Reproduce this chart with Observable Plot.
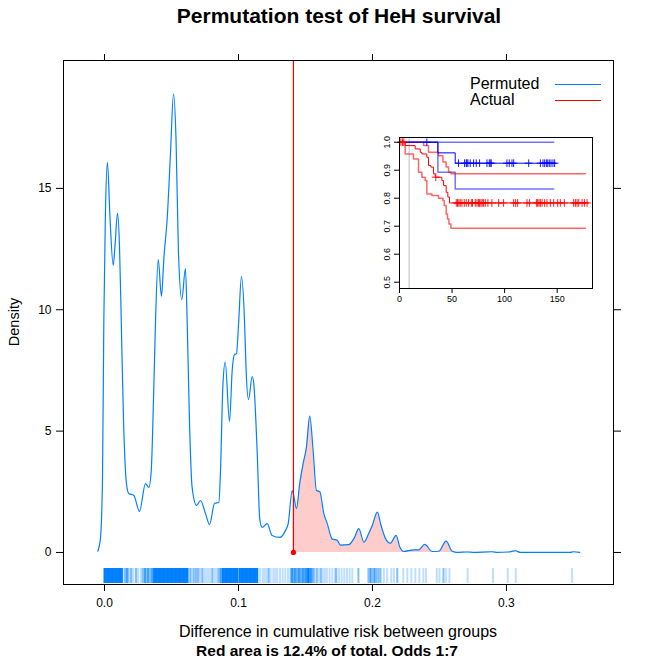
<!DOCTYPE html>
<html><head><meta charset="utf-8">
<script src="https://cdn.jsdelivr.net/npm/d3@7"></script>
<script src="https://cdn.jsdelivr.net/npm/@observablehq/plot@0.6"></script>
<style>
body{margin:0;background:#fff;font-family:"Liberation Sans",Arial,sans-serif;}
#wrap{position:relative;width:651px;height:664px;overflow:hidden;}
#wrap svg{position:absolute;}
.t{position:absolute;white-space:nowrap;color:#000;}
</style></head><body>
<div id="wrap"></div>
<script>
// ---------- main density data ----------
const densX = [-0.0050,-0.0030,-0.0015,-0.0005,0.0007,0.0022,0.0041,0.0065,0.0078,0.0097,0.0112,0.0125,0.0142,0.0164,0.0181,0.0219,0.0261,0.0306,0.0331,0.0349,0.0368,0.0381,0.0401,0.0425,0.0444,0.0468,0.0493,0.0515,0.0534,0.0552,0.0577,0.0604,0.0617,0.0634,0.0654,0.0687,0.0716,0.0754,0.0784,0.0821,0.0853,0.0866,0.0883,0.0901,0.0933,0.0953,0.0970,0.0985,0.1002,0.1022,0.1045,0.1057,0.1075,0.1102,0.1114,0.1140,0.1159,0.1177,0.1214,0.1251,0.1308,0.1351,0.1371,0.1401,0.1410,0.1433,0.1457,0.1483,0.1507,0.1532,0.1557,0.1582,0.1607,0.1637,0.1662,0.1699,0.1737,0.1761,0.1823,0.1866,0.1898,0.1936,0.1972,0.1998,0.2037,0.2060,0.2097,0.2134,0.2177,0.2204,0.2234,0.2308,0.2346,0.2390,0.2446,0.2495,0.2550,0.2595,0.2632,0.2707,0.2756,0.2893,0.2931,0.3017,0.3067,0.3104,0.3478,0.3498,0.3547];
const densY = [0.05,0.6,3.0,9.56,14.0,16.07,13.8,11.83,12.6,13.97,12.6,9.56,5.44,2.84,2.43,2.35,1.69,2.84,2.68,3.38,6.8,9.56,12.07,10.56,12.2,13.76,16.5,18.9,17.0,12.36,10.42,11.7,9.56,5.44,2.68,1.94,2.14,1.6,1.15,2.02,2.06,3.38,6.8,7.84,5.4,7.5,8.15,8.19,9.56,11.37,9.56,7.5,6.3,7.25,6.96,4.08,1.36,1.03,1.19,0.7,0.62,0.91,1.19,2.55,2.4,1.81,2.84,3.67,4.33,5.62,4.2,2.55,2.5,1.6,1.2,0.56,0.5,0.3,0.32,0.62,0.98,0.42,0.78,1.1,1.66,1.19,0.58,0.38,0.7,0.22,0.04,0.11,0.11,0.33,0.04,0.05,0.47,0.05,0,0.02,0,0.03,0,0.02,0.07,0,0,0.03,0];
const actualValue = 0.141;

// rug of permuted values (value, count)
const rugX = [0.000,0.001,0.002,0.003,0.004,0.005,0.006,0.007,0.008,0.009,0.010,0.011,0.012,0.013,
0.0150,0.0165,0.0175,0.0190,0.0200,0.0215,0.0235,0.0250,0.0270,0.0285,0.0300,0.0310,0.0325,0.0340,0.0355,
0.037,0.038,0.039,0.040,0.041,0.042,0.043,0.044,0.045,0.046,0.047,0.048,0.049,0.050,0.051,0.052,0.053,0.054,0.055,0.056,0.057,0.058,0.059,0.060,0.061,0.062,
0.0640,0.0650,0.0665,0.0680,0.0690,0.0700,0.0715,0.0730,0.0745,0.0760,0.0775,0.0790,0.0805,0.0820,0.0835,0.0850,0.0865,
0.088,0.089,0.090,0.091,0.092,0.093,0.094,0.095,0.096,0.097,0.098,0.099,0.100,0.101,0.102,0.103,0.104,0.105,0.106,0.107,0.108,0.109,0.110,0.111,0.112,0.113,0.114,
0.1160,0.1180,0.1195,0.1210,0.1225,0.1240,0.1260,0.1275,0.1290,0.1310,0.1330,0.1350,0.1370,
0.1390,0.1400,0.1410,0.1420,0.1430,0.1440,0.1450,0.1460,0.1470,0.1480,0.1490,0.1500,0.1510,0.1520,0.1530,0.1540,0.1550,0.1560,0.1570,0.1585,0.1600,0.1615,0.1630,0.1645,0.1660,
0.1680,0.1700,0.1720,0.1730,0.1750,0.1770,0.1790,0.1810,0.1830,0.1850,
0.1895,0.1970,0.1985,0.2000,0.2015,0.2030,0.2045,0.2060,0.2085,0.2110,0.2140,0.2160,0.2185,0.2230,0.2260,0.2290,0.2320,0.2350,0.2380,0.2400,0.2480,0.2500,0.2530,0.2550,0.2575,0.2710,0.2900,0.3010,0.3070,0.3490];
const rugN = [4,4,4,4,4,4,4,4,4,4,4,4,4,4,
2,3,2,1,2,1,2,1,1,2,3,2,3,2,3,
4,4,4,4,4,4,4,4,4,4,4,4,4,4,4,4,4,4,4,4,4,4,4,4,4,4,
2,1,2,2,1,2,1,2,1,1,1,1,2,1,1,2,3,
4,4,4,4,4,4,4,4,4,4,4,4,2,4,4,4,4,4,4,4,4,4,4,4,4,4,4,
1,1,1,1,2,1,1,1,1,1,1,1,1,
2,3,2,3,2,2,3,2,2,3,2,3,3,4,3,3,2,2,1,2,1,2,1,1,1,
1,1,1,2,1,1,1,1,1,1,
2,2,3,2,3,2,2,2,1,1,1,1,2,1,1,1,1,1,1,1,1,1,2,1,1,1,1,1,1,1];

const xTicks = [0.0, 0.1, 0.2, 0.3];
const yTicks = [0, 5, 10, 15];
const xDomain = [-0.0306, 0.3799];
const yDomain = [-1.32, 20.27];

// ---------- inset survival data ----------
const blueEstT = [0, 36.5, 53.0, 148.3];
const blueEstS = [1, 0.962, 0.925, 0.925];
const blueUpT = [0, 146.7];
const blueUpS = [1, 1];
const blueLoT = [0, 36.5, 53.0, 146.7];
const blueLoS = [1, 0.893, 0.833, 0.833];
const redEstT = [0, 5.4, 14.9, 19.7, 21.3, 26.0, 27.6, 29.8, 32.4, 34.0, 40.3, 41.9, 44.4, 46.0, 47.6, 180.0];
const redEstS = [1, 0.988, 0.976, 0.964, 0.958, 0.946, 0.917, 0.911, 0.887, 0.875, 0.863, 0.845, 0.821, 0.804, 0.783, 0.783];
const redUpT = [0, 22.9, 27.6, 37.1, 41.3, 44.4, 46.7, 48.9, 176.8];
const redUpS = [1, 0.988, 0.964, 0.952, 0.929, 0.911, 0.893, 0.887, 0.887];
const redLoT = [0, 5.4, 13.3, 18.1, 21.3, 24.4, 26.0, 30.8, 37.1, 41.3, 42.5, 44.4, 45.7, 47.0, 48.9, 176.8];
const redLoS = [1, 0.958, 0.940, 0.893, 0.875, 0.863, 0.815, 0.810, 0.800, 0.792, 0.774, 0.744, 0.726, 0.708, 0.693, 0.693];
const blueCensT = [26.0, 56.2, 61.9, 63.5, 64.1, 65.1, 67.3, 70.5, 73.0, 76.2, 83.2, 85.4, 86.3, 87.3, 102.2, 104.4, 107.0, 108.6, 122.9, 134.0, 136.5, 138.1, 139.7, 141.0, 142.5, 144.1, 146.0, 147.6];
const redCensT = [1.3, 2.9, 4.1, 34.5, 54.0, 55.2, 56.5, 57.8, 59.4, 61.6, 63.5, 65.7, 68.3, 69.5, 72.1, 73.7, 75.2, 76.2, 77.5, 78.7, 80.0, 81.6, 84.1, 87.9, 94.3, 99.0, 108.6, 110.5, 112.4, 121.3, 123.8, 130.2, 131.4, 132.7, 134.0, 135.6, 138.1, 140.3, 143.5, 146.7, 150.5, 153.0, 156.8, 165.7, 167.3, 168.9, 170.5, 173.7, 175.9, 178.4];
const landmarkT = 9.2;
const insetXTicks = [0, 50, 100, 150];
const insetYTicks = [0.5, 0.6, 0.7, 0.8, 0.9, 1.0];

// ---------- build ----------
const FONT = "'Liberation Sans', Arial, sans-serif";
const dens = densX.map((x, i) => ({x, y: densY[i]}));
const rug = rugX.map((x, i) => ({x, n: rugN[i]}));
const wrap = document.getElementById("wrap");

const main = Plot.plot({
  width: 651, height: 664,
  marginLeft: 63, marginRight: 38, marginTop: 60, marginBottom: 80,
  style: {fontFamily: FONT, fontSize: "12px", background: "transparent", color: "black"},
  x: {domain: xDomain, label: null},
  y: {domain: yDomain, label: null},
  opacity: {type: "linear", domain: [0, 4], range: [0, 1]},
  marks: [
    Plot.areaY(dens.filter(d => d.x >= actualValue), {x: "x", y: "y", fill: "#ffcccc", curve: "monotone-x"}),
    Plot.lineY(dens, {x: "x", y: "y", stroke: "#0080ff", strokeWidth: 1.2, curve: "monotone-x"}),
    Plot.ruleX(rug, {x: "x", stroke: "#0080ff", strokeOpacity: "n", strokeWidth: 2, insetTop: 508, insetBottom: 1}),
    Plot.ruleX([actualValue], {x: d => d, y1: 0, y2: yDomain[1], stroke: "#ff0000", strokeWidth: 1.2}),
    Plot.dot([actualValue], {x: d => d, y: 0, r: 2.6, fill: "red", stroke: "none"}),
    Plot.frame({stroke: "black"}),
    Plot.axisX(xTicks, {anchor: "bottom", tickSize: 7, tickPadding: 7, tickFormat: d3.format(".1f"), label: null}),
    Plot.axisX(xTicks, {anchor: "top", tickSize: 7, tickFormat: () => "", label: null}),
    Plot.axisY(yTicks, {anchor: "left", tickSize: 7, tickPadding: 5, label: null}),
    Plot.axisY(yTicks, {anchor: "right", tickSize: 7, tickFormat: () => "", label: null})
  ]
});
main.style.left = "0px"; main.style.top = "0px";
wrap.appendChild(main);

const step = (T, S) => T.map((t, i) => ({t, s: S[i]}));
const lookup = (T, S) => t => S[Math.max(0, d3.bisectRight(T, t) - 1)];
const blueAt = lookup(blueEstT, blueEstS), redAt = lookup(redEstT, redEstS);

const inset = Plot.plot({
  width: 230, height: 174,
  marginLeft: 30, marginTop: 6, marginRight: 7, marginBottom: 17,
  style: {fontFamily: FONT, fontSize: "9px", background: "white", color: "black"},
  x: {domain: [0, 183.6], label: null},
  y: {domain: [0.4775, 1.0168], label: null},
  marks: [
    Plot.ruleX([landmarkT], {x: d => d, stroke: "#cccccc", strokeWidth: 1.3}),
    Plot.line(step(blueUpT, blueUpS), {x: "t", y: "s", curve: "step-after", stroke: "blue", strokeOpacity: 0.55}),
    Plot.line(step(blueLoT, blueLoS), {x: "t", y: "s", curve: "step-after", stroke: "blue", strokeOpacity: 0.55}),
    Plot.line(step(redUpT, redUpS), {x: "t", y: "s", curve: "step-after", stroke: "red", strokeOpacity: 0.6}),
    Plot.line(step(redLoT, redLoS), {x: "t", y: "s", curve: "step-after", stroke: "red", strokeOpacity: 0.6}),
    Plot.line(step(blueEstT, blueEstS), {x: "t", y: "s", curve: "step-after", stroke: "blue", strokeWidth: 1}),
    Plot.line(step(redEstT, redEstS), {x: "t", y: "s", curve: "step-after", stroke: "red", strokeWidth: 1}),
    Plot.dot(blueCensT, {x: d => d, y: d => blueAt(d), symbol: "plus", r: 2.6, stroke: "blue", strokeWidth: 0.9}),
    Plot.dot(redCensT, {x: d => d, y: d => redAt(d), symbol: "plus", r: 2.6, stroke: "red", strokeWidth: 0.9}),
    Plot.frame({stroke: "black"}),
    Plot.axisX(insetXTicks, {anchor: "bottom", tickSize: 5, tickPadding: 2, label: null}),
    Plot.axisY(insetYTicks, {anchor: "left", tickSize: 5, tickPadding: 5, tickRotate: -90, tickFormat: d3.format(".1f"), label: null})
  ]
});
inset.style.left = "369px"; inset.style.top = "131px";
wrap.appendChild(inset);

// ---------- text & legend ----------
function addText(txt, css) {
  const d = document.createElement("div");
  d.className = "t"; d.textContent = txt;
  Object.assign(d.style, css);
  wrap.appendChild(d);
  return d;
}
addText("Permutation test of HeH survival", {left: "339px", top: "4px", transform: "translateX(-50%)", fontSize: "21px", fontWeight: "bold", lineHeight: "24px"});
addText("Difference in cumulative risk between groups", {left: "338px", top: "622px", transform: "translateX(-50%)", fontSize: "16px", lineHeight: "19px"});
addText("Red area is 12.4% of total. Odds 1:7", {left: "327px", top: "641px", transform: "translateX(-50%)", fontSize: "15.5px", fontWeight: "bold", lineHeight: "19px"});
addText("Density", {left: "14px", top: "322px", transform: "translate(-50%,-50%) rotate(-90deg)", fontSize: "14.5px", lineHeight: "17px"});
addText("Permuted", {left: "470px", top: "75px", fontSize: "16px", lineHeight: "18px"});
addText("Actual", {left: "470px", top: "91px", fontSize: "16px", lineHeight: "18px"});
addText("", {left: "555px", top: "84px", width: "46px", height: "0px", borderTop: "1px solid #0080ff"});
addText("", {left: "555px", top: "100px", width: "46px", height: "0px", borderTop: "1px solid red"});
</script>
</body></html>
